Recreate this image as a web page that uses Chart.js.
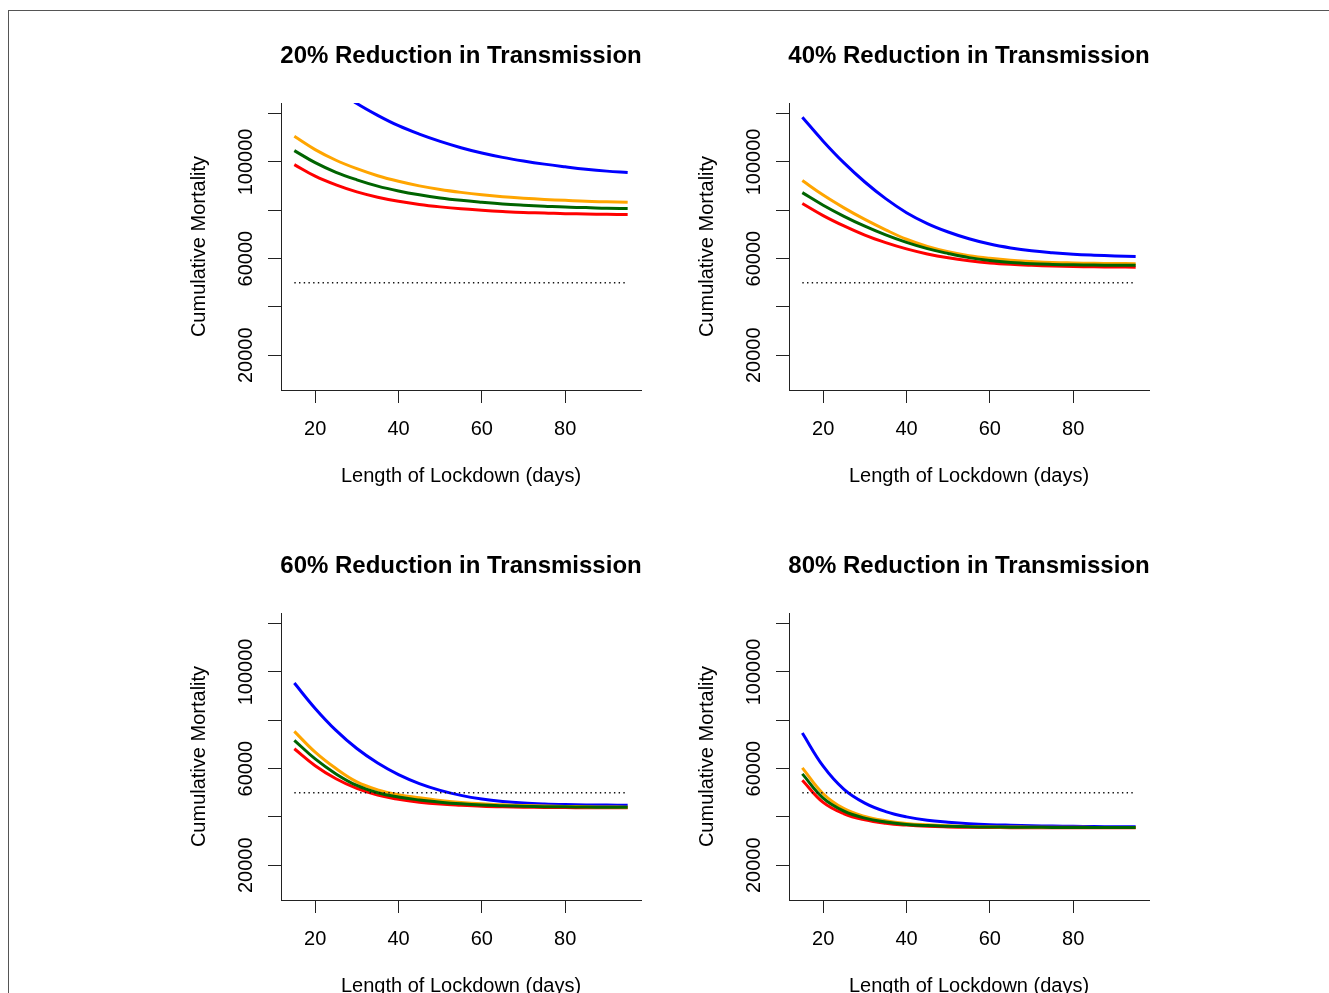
<!DOCTYPE html>
<html>
<head>
<meta charset="utf-8">
<script src="https://cdn.jsdelivr.net/npm/chart.js@4.4.1/dist/chart.umd.min.js"></script>
<style>
  html, body { margin: 0; padding: 0; background: #fff; }
  body { width: 1329px; height: 993px; position: relative; overflow: hidden; }
  #frame { position: absolute; left: 8px; top: 10px; right: -2px; bottom: -2px;
           border-top: 1px solid #555; border-left: 1px solid #555; }
  canvas { position: absolute; }
</style>
</head>
<body>
<div id="frame"></div>
<canvas id="p1" width="520" height="497" style="left:161px; top:13px"></canvas>
<canvas id="p2" width="520" height="497" style="left:669px; top:13px"></canvas>
<canvas id="p3" width="520" height="497" style="left:161px; top:523px"></canvas>
<canvas id="p4" width="520" height="497" style="left:669px; top:523px"></canvas>
<script>
// Length of lockdown (days) used for every curve
const days = [15, 20, 25, 30, 35, 40, 45, 50, 55, 60, 65, 70, 75, 80, 85, 90, 95];
const xTicks = [20, 40, 60, 80];
const yTicks = [20000, 40000, 60000, 80000, 100000, 120000];
const yLabelled = [20000, 60000, 100000];
const threshold = 50000;

const panelTitles = [
  "20% Reduction in Transmission",
  "40% Reduction in Transmission",
  "60% Reduction in Transmission",
  "80% Reduction in Transmission",
];
const xTitle = "Length of Lockdown (days)";
const yTitle = "Cumulative Mortality";

// 20% reduction
const p1Blue = [145400, 137100, 130100, 124200, 119300, 115000, 111500, 108500, 105900, 103700, 101900, 100400, 99100, 98000, 97000, 96200, 95600];
const p1Orange = [110600, 105100, 100700, 97200, 94300, 92000, 90100, 88600, 87400, 86400, 85600, 85000, 84500, 84100, 83700, 83500, 83300];
const p1Green = [104700, 99700, 95700, 92600, 90000, 88000, 86400, 85100, 84100, 83300, 82600, 82100, 81700, 81300, 81100, 80800, 80700];
const p1Red = [98900, 94100, 90500, 87600, 85400, 83700, 82400, 81400, 80600, 80000, 79500, 79100, 78900, 78600, 78500, 78300, 78200];

// 40% reduction
const p2Blue = [118500, 108600, 99600, 91700, 84800, 79000, 74500, 71000, 68200, 66000, 64400, 63200, 62400, 61800, 61400, 61100, 60900];
const p2Orange = [92300, 86300, 81000, 76200, 71900, 68000, 65000, 62800, 61200, 60100, 59300, 58800, 58400, 58200, 58050, 57950, 57900];
const p2Green = [87300, 82100, 77500, 73400, 69800, 66700, 64100, 62100, 60400, 59200, 58400, 57900, 57600, 57400, 57300, 57250, 57200];
const p2Red = [82800, 77800, 73500, 69700, 66600, 64000, 61900, 60300, 59100, 58200, 57600, 57200, 56900, 56700, 56600, 56500, 56450];

// 60% reduction
const p3Blue = [95400, 84900, 75800, 68300, 62300, 57500, 53800, 51000, 48900, 47400, 46400, 45750, 45350, 45100, 44950, 44880, 44850];
const p3Orange = [75400, 66800, 60000, 54500, 51200, 49200, 47900, 46800, 46000, 45400, 45000, 44700, 44500, 44350, 44200, 44100, 44000];
const p3Green = [71700, 64000, 57800, 53000, 50000, 48200, 47000, 46100, 45400, 44900, 44600, 44400, 44250, 44150, 44050, 44000, 43950];
const p3Red = [68200, 61200, 55800, 51800, 49000, 47300, 46100, 45300, 44800, 44400, 44150, 44000, 43900, 43850, 43800, 43780, 43750];

// 80% reduction
const p4Blue = [74700, 61000, 51400, 45700, 42200, 40000, 38600, 37800, 37200, 36800, 36550, 36350, 36200, 36100, 36000, 35950, 35900];
const p4Orange = [60300, 49600, 43400, 40200, 38400, 37300, 36700, 36300, 36050, 35900, 35800, 35750, 35700, 35700, 35650, 35650, 35650];
const p4Green = [57800, 47800, 42400, 39500, 37900, 36900, 36400, 36100, 35900, 35800, 35750, 35700, 35650, 35650, 35600, 35600, 35600];
const p4Red = [55200, 46000, 41300, 38800, 37400, 36600, 36100, 35850, 35700, 35600, 35550, 35500, 35500, 35500, 35500, 35500, 35500];

const FONT = '"Liberation Sans", Arial, Helvetica, sans-serif';
const colors = { blue: "#0000ff", orange: "#ffa500", green: "#006400", red: "#ff0000" };

const panels = [
  { id: "p1", title: panelTitles[0], blue: p1Blue, orange: p1Orange, green: p1Green, red: p1Red },
  { id: "p2", title: panelTitles[1], blue: p2Blue, orange: p2Orange, green: p2Green, red: p2Red },
  { id: "p3", title: panelTitles[2], blue: p3Blue, orange: p3Orange, green: p3Green, red: p3Red },
  { id: "p4", title: panelTitles[3], blue: p4Blue, orange: p4Orange, green: p4Green, red: p4Red },
];

const toPoints = (values) => days.map((d, i) => ({ x: d, y: values[i] }));

// R style texts: title, tick labels and axis titles
const rText = {
  id: "rText",
  afterDraw(chart, args, opts) {
    const { ctx, chartArea: a } = chart;
    const x = chart.scales.x;
    const y = chart.scales.y;
    const midX = (a.left + a.right) / 2;
    const midY = (a.top + a.bottom) / 2;
    ctx.save();
    ctx.fillStyle = "#000";
    ctx.textAlign = "center";
    ctx.textBaseline = "alphabetic";

    ctx.font = "bold 24px " + FONT;
    ctx.fillText(opts.title, midX, a.top - 40);

    ctx.font = "20px " + FONT;
    xTicks.forEach((v) => {
      ctx.fillText(String(v), x.getPixelForValue(v), a.bottom + 44.5);
    });
    ctx.fillText(xTitle, midX, a.bottom + 92);

    yLabelled.forEach((v) => {
      ctx.save();
      ctx.translate(a.left - 29, y.getPixelForValue(v));
      ctx.rotate(-Math.PI / 2);
      ctx.fillText(String(v), 0, 0);
      ctx.restore();
    });

    ctx.translate(a.left - 76.5, midY);
    ctx.rotate(-Math.PI / 2);
    ctx.fillText(yTitle, 0, 0);
    ctx.restore();
  },
};

const curve = (values, color, order) => ({
  data: toPoints(values),
  borderColor: color,
  borderWidth: 3,
  pointRadius: 0,
  tension: 0.4,
  fill: false,
  clip: 0,
  order: order,
});

const axis = (min, max, ticks, horizontal) => ({
  type: "linear",
  min: min,
  max: max,
  afterBuildTicks: (scale) => {
    scale.ticks = ticks.map((v) => ({ value: v }));
  },
  afterFit: (scale) => {
    if (horizontal) scale.height = 13;
    else scale.width = 13;
  },
  ticks: { display: false },
  grid: { drawOnChartArea: false, drawTicks: true, tickLength: 13, color: "#222", lineWidth: 1 },
  border: { display: true, color: "#222", width: 1 },
});

panels.forEach((panel) => {
  new Chart(document.getElementById(panel.id), {
    type: "line",
    data: {
      datasets: [
        curve(panel.blue, colors.blue, 3),
        curve(panel.red, colors.red, 2),
        curve(panel.orange, colors.orange, 1),
        curve(panel.green, colors.green, 0),
        {
          data: [{ x: days[0], y: threshold }, { x: days[days.length - 1], y: threshold }],
          borderColor: "#111",
          borderWidth: 1.4,
          borderDash: [1.4, 3.3],
          pointRadius: 0,
          fill: false,
          order: -1,
        },
      ],
    },
    options: {
      responsive: false,
      animation: false,
      events: [],
      layout: { padding: { left: 107, top: 90, right: 40, bottom: 107 } },
      plugins: {
        legend: { display: false },
        tooltip: { enabled: false },
        rText: { title: panel.title },
      },
      scales: {
        x: axis(11.8, 98.2, xTicks, true),
        y: axis(5600, 124400, yTicks, false),
      },
    },
    plugins: [rText],
  });
});
</script>
</body>
</html>
